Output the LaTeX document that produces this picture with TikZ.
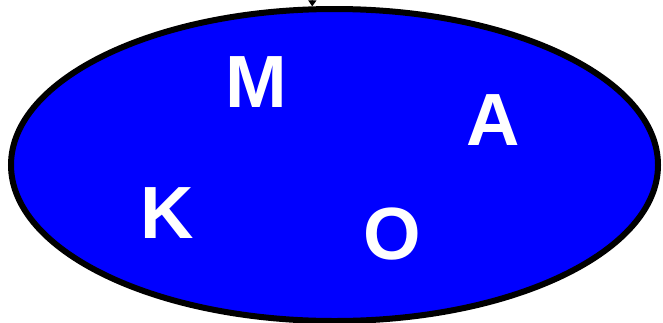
\documentclass[tikz,border=0pt]{standalone}
\usepackage{fontspec}
\setmainfont{Liberation Sans}
\usetikzlibrary{shapes.geometric,arrows.meta}
\tikzset{
  blob/.style={ellipse, draw=black, line width=6pt, fill={rgb,255:red,0;green,0;blue,255}, minimum width=647pt, minimum height=312pt, inner sep=0pt},
  letter/.style={text=white, font=\fontsize{74}{74}\selectfont\bfseries, inner sep=0pt, anchor=center},
  inarrow/.style={line width=1.2pt, -{Triangle[width=8pt,length=6pt]}}
}
\begin{document}
\begin{tikzpicture}[x=1pt,y=1pt]
\useasboundingbox (0,0) rectangle (663,-322);
\node[blob] (ell) at (334.5,-165) {};
\coordinate (src) at (313,40);
\draw[inarrow] (src) -- (ell.98);
\node[letter] (m) at (256,-82) {M};
\node[letter] (a) at (493,-120) {A};
\node[letter] (k) at (167,-213) {K};
\node[letter] (o) at (392,-234) {O};
\end{tikzpicture}
\end{document}
